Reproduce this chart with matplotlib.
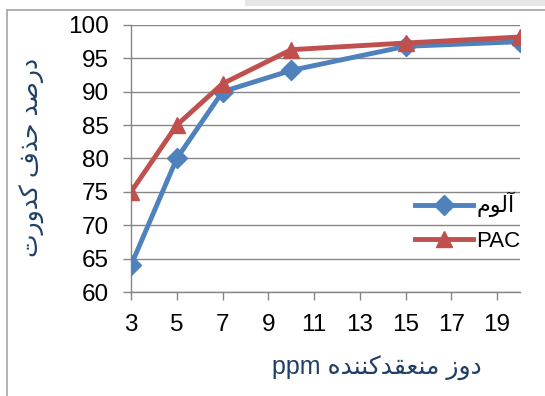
import numpy as np
import matplotlib.pyplot as plt
from matplotlib.lines import Line2D
from matplotlib.patches import Rectangle

plt.rcParams['font.family'] = ['Liberation Sans', 'DejaVu Sans']

# coagulant dose (ppm) and turbidity removal (%)
dose = [3, 5, 7, 10, 15, 20]
alum = [64, 80, 90, 93.2, 96.8, 97.5]
pac = [75, 85, 91.2, 96.3, 97.3, 98.2]
x_ticks = [3, 5, 7, 9, 11, 13, 15, 17, 19]
y_ticks = [60, 65, 70, 75, 80, 85, 90, 95, 100]

# Persian labels written in visual (presentation form) order
alum_label = '\uFEE1\uFEEE\uFEDF\uFE81'
y_label = ('\uFE95\uFEAD\uFEED\uFEAA\uFB90 \uFED1\uFEAC\uFEA3 '
           '\uFEAA\uFEBB\uFEAD\uFEA9')
x_label = ('ppm \uFEE9\uFEAA\uFEE8\uFEE8\uFB90\uFEAA\uFED8\uFECC\uFEE8\uFEE3 '
           '\uFEAF\uFEED\uFEA9')

blue = '#4F81BD'
red = '#C0504D'
grid = '#868686'
label_color = '#1F3F66'

fig = plt.figure(figsize=(5.45, 3.96), dpi=100)
ax = fig.add_axes([0.2404, 0.2626, 0.7136, 0.6743])

ax.plot(dose, alum, color=blue, lw=3.5, marker='D', ms=10, label=alum_label, zorder=3)
ax.plot(dose, pac, color=red, lw=3.5, marker='^', ms=11, label='PAC', zorder=4)

ax.set_xlim(3, 20)
ax.set_ylim(60, 100)
ax.set_xticks(x_ticks)
ax.set_yticks(y_ticks)
ax.grid(axis='y', color=grid, lw=1)
ax.set_axisbelow(True)
for s in ['top', 'right']:
    ax.spines[s].set_visible(False)
for s in ['left', 'bottom']:
    ax.spines[s].set_color(grid)
    ax.spines[s].set_linewidth(1)
ax.tick_params(axis='both', direction='out', length=6, width=1, color=grid,
               labelsize=17.5)
ax.tick_params(axis='y', pad=10)
ax.tick_params(axis='x', pad=10)

ax.set_ylabel(y_label, fontsize=18, color=label_color)
ax.yaxis.set_label_coords(-0.22, 0.505)
ax.set_xlabel(x_label, fontsize=18, color=label_color)
ax.xaxis.set_label_coords(0.633, -0.24)

ax.legend(loc='center left', bbox_to_anchor=(0.68, 0.263), frameon=False,
          fontsize=16, handlelength=2.6, handletextpad=0.15, labelspacing=0.6)

# outer frame of the chart area
fig.add_artist(Line2D([7 / 545, 7 / 545], [0, 1 - 10 / 396], color='#A6A6A6', lw=1.2))
fig.add_artist(Line2D([7 / 545, 1], [1 - 10 / 396, 1 - 10 / 396], color='#A6A6A6', lw=1.2))
fig.add_artist(Rectangle((245 / 545, 1 - 6 / 396), 300 / 545, 6 / 396,
                         color='#E6E6E6', lw=0))

fig.savefig('out.png', dpi=100)
